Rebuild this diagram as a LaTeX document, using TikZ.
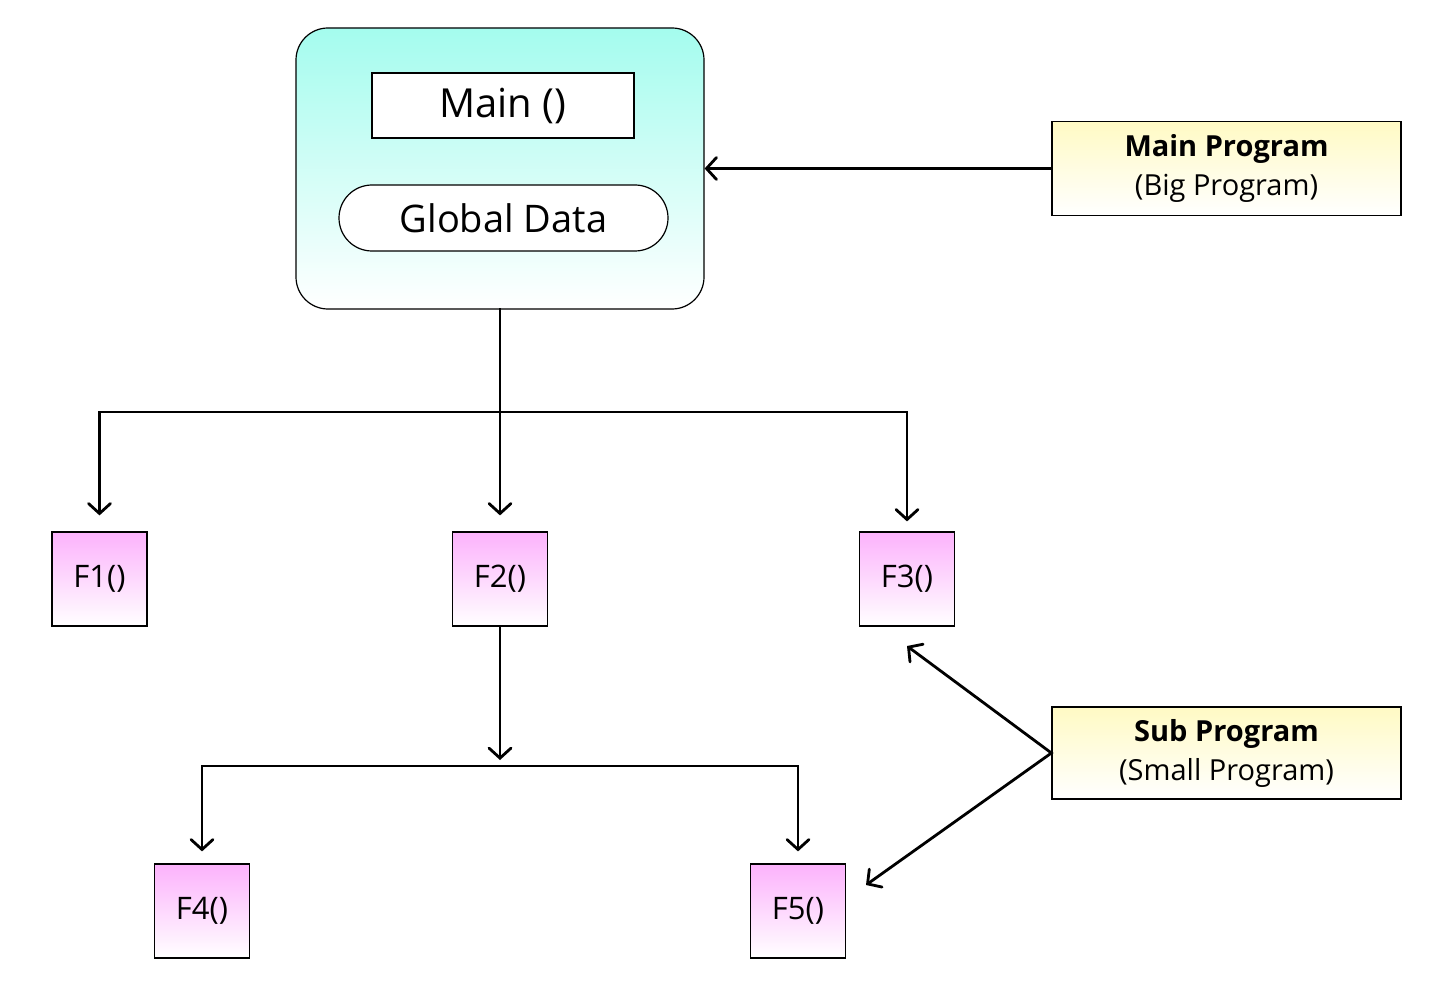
\documentclass[tikz,border=0pt]{standalone}
\usepackage{fontspec}
\setmainfont{Open Sans}
\usetikzlibrary{arrows.meta}
\definecolor{cyantop}{RGB}{164,252,238}
\definecolor{pinktop}{RGB}{252,178,252}
\definecolor{yeltop}{RGB}{255,250,196}
\tikzset{
  ln/.style={line width=2.8pt, line cap=rect},
  conn/.style={ln, -{Straight Barb[length=10pt,width=22pt,line cap=round]}},
  fbox/.style={draw, line width=1.2pt, minimum width=95pt, minimum height=94pt, inner sep=0pt,
    top color=pinktop, bottom color=white, font=\fontsize{31}{36}\selectfont},
  labelbox/.style={draw, line width=1.2pt, minimum width=349pt, minimum height=94pt, inner sep=0pt,
    top color=yeltop, bottom color=white, align=center, font=\fontsize{29}{39}\selectfont}
}
\begin{document}
\begin{tikzpicture}[x=1pt,y=-1pt]
\useasboundingbox (0,0) rectangle (1434,1000);
% main block
\node[draw, line width=1.2pt, rounded corners=32pt, minimum width=408pt, minimum height=281pt,
  top color=cyantop, bottom color=white, inner sep=0pt] (big) at (500,168.5) {};
\node[draw, fill=white, line width=1.2pt, minimum width=262pt, minimum height=65pt, inner sep=0pt,
  font=\fontsize{40}{46}\selectfont] (main) at (503,105.5) {Main ()};
\node[draw, fill=white, line width=1.2pt, rounded corners=33pt, minimum width=329pt, minimum height=66pt, inner sep=0pt,
  font=\fontsize{38}{46}\selectfont] (glob) at (503.5,218) {Global Data};
% label boxes
\node[labelbox] (mainprog) at (1226.5,168.5) {\textbf{Main Program}\\(Big Program)};
\node[labelbox, minimum height=92pt] (subprog) at (1226.5,753) {\textbf{Sub Program}\\(Small Program)};
% function boxes
\node[fbox] (F1) at (99.5,579) {F1()};
\node[fbox] (F2) at (500,579) {F2()};
\node[fbox] (F3) at (907,579) {F3()};
\node[fbox] (F4) at (202,911) {F4()};
\node[fbox] (F5) at (798,911) {F5()};
% junctions
\coordinate (j1) at (500,412);
\coordinate (j2) at (500,766);
\coordinate (t3) at (907,646);
\coordinate (t5) at (866,885);
% connectors
\draw[conn] (mainprog) -- (big);
\draw[conn, shorten >=16pt] (big.south) -- (F2.north);
\draw[ln] (F1 |- j1) -- (F3 |- j1);
\draw[conn, shorten >=16pt] (F1 |- j1) -- (F1.north);
\draw[conn, shorten >=10pt] (F3 |- j1) -- (F3.north);
\draw[conn, shorten >=6pt] (F2.south) -- (j2);
\draw[ln] (F4 |- j2) -- (F5 |- j2);
\draw[conn, shorten >=12pt] (F4 |- j2) -- (F4.north);
\draw[conn, shorten >=12pt] (F5 |- j2) -- (F5.north);
\draw[conn] (subprog.west) -- (t3);
\draw[conn] (subprog.west) -- (t5);
\end{tikzpicture}
\end{document}
